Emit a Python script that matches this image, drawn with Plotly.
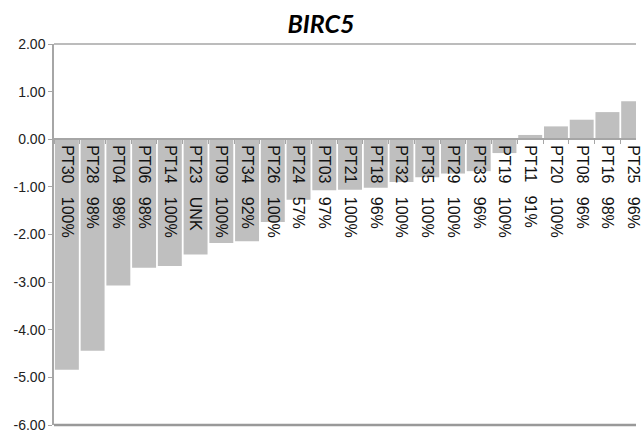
import plotly.graph_objects as go

# Patients ordered by expression change
patients = ["PT30", "PT28", "PT04", "PT06", "PT14", "PT23", "PT09", "PT34",
            "PT26", "PT24", "PT03", "PT21", "PT18", "PT32", "PT35", "PT29",
            "PT33", "PT19", "PT11", "PT20", "PT08", "PT16", "PT25"]
tumor_content = ["100%", "98%", "98%", "98%", "100%", "UNK", "100%", "92%",
                 "100%", "57%", "97%", "100%", "96%", "100%", "100%", "100%",
                 "96%", "100%", "91%", "100%", "96%", "98%", "96%"]
log_change = [-4.84, -4.44, -3.07, -2.70, -2.66, -2.42, -2.18, -2.14,
              -1.74, -1.27, -1.07, -1.06, -1.02, -0.90, -0.80, -0.72,
              -0.67, -0.29, 0.09, 0.27, 0.41, 0.57, 0.80]
y_ticks = [2, 1, 0, -1, -2, -3, -4, -5, -6]
y_tick_text = ["2.00", "1.00", "0.00", "-1.00", "-2.00", "-3.00", "-4.00",
               "-5.00", "-6.00"]

GRID = "#a6a6a6"
FONT = "Arial, Liberation Sans, sans-serif"
NBSP = "\u00a0"
labels = [f"{p}{NBSP*3}{c}" for p, c in zip(patients, tumor_content)]

fig = go.Figure(
    go.Bar(
        x=patients,
        y=log_change,
        width=0.93,
        marker=dict(color="#bfbfbf", line=dict(width=0)),
        hoverinfo="x+y",
    )
)

fig.update_layout(
    width=642,
    height=433,
    margin=dict(l=54, r=0, t=44, b=7),
    paper_bgcolor="white",
    plot_bgcolor="white",
    showlegend=False,
    title=dict(
        text="<b><i>BIRC5</i></b>",
        x=0.5,
        xanchor="center",
        y=1 - 24 / 433,
        yanchor="middle",
        font=dict(family="Lato", size=25, color="black"),
    ),
    xaxis=dict(
        type="category",
        range=[-0.5, 22.11],
        anchor="free",
        position=0.75,
        showline=True,
        linecolor=GRID,
        linewidth=1.5,
        ticks="outside",
        tickson="boundaries",
        ticklen=4,
        tickcolor=GRID,
        tickangle=90,
        tickmode="array",
        tickvals=patients,
        ticktext=labels,
        ticklabelstandoff=2,
        tickfont=dict(family=FONT, size=16, color="#111111"),
        showgrid=False,
        zeroline=False,
    ),
    yaxis=dict(
        range=[-6, 2],
        tickmode="array",
        tickvals=y_ticks,
        ticktext=y_tick_text,
        ticklabeloverflow="allow",
        showline=True,
        linecolor=GRID,
        linewidth=1.5,
        ticks="outside",
        ticklen=4,
        tickcolor=GRID,
        tickfont=dict(family=FONT, size=14, color="#222222"),
        showgrid=False,
        zeroline=False,
    ),
    shapes=[
        dict(type="line", xref="paper", yref="paper", x0=0, x1=1, y0=1, y1=1,
             line=dict(color=GRID, width=1.5)),
        dict(type="line", xref="paper", yref="paper", x0=0, x1=1, y0=0, y1=0,
             line=dict(color="#999999", width=2.5)),
    ],
)

fig.write_html("out.html")
